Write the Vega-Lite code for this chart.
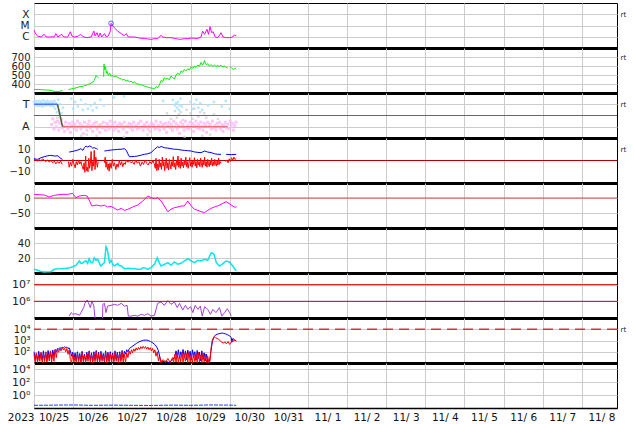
{
"$schema": "https://vega.github.io/schema/vega-lite/v6.json",
"padding": {"left": 0, "top": 2, "right": 0, "bottom": 0},
"spacing": 0,
"bounds": "flush",
"config": {
  "view": {"stroke": "#000", "strokeWidth": 1},
  "axis": {"labelFont": "DejaVu Sans", "labelFontSize": 10, "labelColor": "#222", "gridColor": "#cccccc", "gridWidth": 1, "labelOverlap": false},
  "line": {"strokeWidth": 1, "invalid": "break-paths-filter-domains", "clip": true}
},
"datasets": {
  "xr": [{"d":0,"v":3.7e-6},{"d":0.05,"v":1.6e-6},{"d":0.09,"v":1.17e-6},{"d":0.18,"v":9.5e-7},{"d":0.26,"v":1.64e-6},{"d":0.31,"v":9.5e-7},{"d":0.39,"v":9.5e-7},{"d":0.52,"v":1.0e-6},{"d":0.56,"v":1.9e-6},{"d":0.61,"v":9.5e-7},{"d":0.67,"v":1.34e-6},{"d":0.71,"v":1.64e-6},{"d":0.76,"v":9.5e-7},{"d":0.86,"v":9.5e-7},{"d":0.93,"v":2.8e-6},{"d":0.97,"v":1.17e-6},{"d":1.03,"v":9.5e-7},{"d":1.12,"v":1.09e-6},{"d":1.19,"v":1.64e-6},{"d":1.24,"v":1.09e-6},{"d":1.33,"v":8.3e-7},{"d":1.46,"v":9.5e-7},{"d":1.53,"v":3.2e-6},{"d":1.56,"v":1.17e-6},{"d":1.61,"v":2.3e-6},{"d":1.65,"v":9.5e-7},{"d":1.69,"v":2.15e-6},{"d":1.73,"v":9.5e-7},{"d":1.80,"v":1.9e-6},{"d":1.85,"v":9.5e-7},{"d":1.90,"v":1.17e-6},{"d":1.95,"v":3.2e-6},{"d":1.97,"v":1.56e-5},{"d":2.05,"v":6.4e-6},{"d":2.14,"v":3.2e-6},{"d":2.23,"v":1.9e-6},{"d":2.31,"v":1.25e-6},{"d":2.36,"v":1.9e-6},{"d":2.41,"v":9.5e-7},{"d":2.48,"v":9.5e-7},{"d":2.57,"v":9.5e-7},{"d":2.65,"v":8.3e-7},{"d":2.74,"v":7.2e-7},{"d":2.82,"v":7.2e-7},{"d":2.91,"v":6.3e-7},{"d":2.99,"v":5.9e-7},{"d":3.08,"v":6.8e-7},{"d":3.16,"v":6.8e-7},{"d":3.25,"v":1.34e-6},{"d":3.29,"v":9.5e-7},{"d":3.38,"v":8.3e-7},{"d":3.50,"v":8.3e-7},{"d":3.59,"v":7.2e-7},{"d":3.67,"v":6.3e-7},{"d":3.76,"v":5.9e-7},{"d":3.84,"v":6.8e-7},{"d":3.93,"v":6.8e-7},{"d":4.02,"v":7.7e-7},{"d":4.10,"v":7.2e-7},{"d":4.19,"v":7.2e-7},{"d":4.27,"v":9.5e-7},{"d":4.31,"v":3.2e-6},{"d":4.36,"v":1.64e-6},{"d":4.42,"v":4.6e-6},{"d":4.46,"v":1.64e-6},{"d":4.50,"v":7.9e-6},{"d":4.54,"v":2.3e-6},{"d":4.58,"v":2.8e-6},{"d":4.63,"v":9.5e-7},{"d":4.70,"v":8.3e-7},{"d":4.78,"v":2.3e-6},{"d":4.83,"v":9.5e-7},{"d":4.91,"v":8.3e-7},{"d":5.00,"v":8.3e-7},{"d":5.08,"v":9.5e-7},{"d":5.12,"v":1.43e-6},{"d":5.17,"v":1.17e-6}],
  "sw": [{"d":0,"v":341},{"d":0.05,"v":338},{"d":0.1,"v":340},{"d":0.18,"v":336},{"d":0.26,"v":335},{"d":0.35,"v":332},{"d":0.43,"v":330},{"d":0.48,"v":322},{"d":0.52,"v":316},{"d":0.56,"v":320},{"d":0.61,"v":314},{"d":0.65,"v":318},{"d":0.69,"v":322},{"d":0.73,"v":328},{"d":0.78,"v":null},{"d":0.88,"v":338},{"d":0.95,"v":345},{"d":1.03,"v":352},{"d":1.1,"v":360},{"d":1.15,"v":368},{"d":1.2,"v":375},{"d":1.25,"v":372},{"d":1.29,"v":385},{"d":1.33,"v":380},{"d":1.37,"v":395},{"d":1.42,"v":402},{"d":1.46,"v":410},{"d":1.5,"v":420},{"d":1.54,"v":440},{"d":1.57,"v":470},{"d":1.59,"v":495},{"d":1.62,"v":480},{"d":1.65,"v":470},{"d":1.7,"v":null},{"d":1.78,"v":480},{"d":1.79,"v":620},{"d":1.81,"v":560},{"d":1.83,"v":590},{"d":1.85,"v":520},{"d":1.87,"v":540},{"d":1.9,"v":495},{"d":1.93,"v":520},{"d":1.97,"v":485},{"d":2.0,"v":500},{"d":2.05,"v":478},{"d":2.1,"v":490},{"d":2.14,"v":470},{"d":2.18,"v":465},{"d":2.23,"v":455},{"d":2.27,"v":445},{"d":2.31,"v":452},{"d":2.35,"v":432},{"d":2.4,"v":440},{"d":2.44,"v":425},{"d":2.48,"v":430},{"d":2.53,"v":415},{"d":2.57,"v":422},{"d":2.61,"v":405},{"d":2.65,"v":400},{"d":2.7,"v":395},{"d":2.74,"v":390},{"d":2.78,"v":385},{"d":2.82,"v":378},{"d":2.86,"v":372},{"d":2.91,"v":366},{"d":2.95,"v":360},{"d":2.99,"v":356},{"d":3.03,"v":352},{"d":3.08,"v":345},{"d":3.12,"v":372},{"d":3.16,"v":360},{"d":3.2,"v":385},{"d":3.25,"v":440},{"d":3.29,"v":425},{"d":3.33,"v":470},{"d":3.37,"v":455},{"d":3.42,"v":462},{"d":3.46,"v":445},{"d":3.5,"v":488},{"d":3.55,"v":470},{"d":3.59,"v":455},{"d":3.63,"v":500},{"d":3.67,"v":520},{"d":3.72,"v":505},{"d":3.76,"v":545},{"d":3.8,"v":530},{"d":3.84,"v":560},{"d":3.88,"v":545},{"d":3.93,"v":570},{"d":3.97,"v":555},{"d":4.02,"v":590},{"d":4.06,"v":575},{"d":4.1,"v":600},{"d":4.14,"v":585},{"d":4.19,"v":610},{"d":4.23,"v":598},{"d":4.27,"v":640},{"d":4.31,"v":610},{"d":4.36,"v":660},{"d":4.38,"v":630},{"d":4.4,"v":615},{"d":4.44,"v":625},{"d":4.48,"v":600},{"d":4.53,"v":615},{"d":4.57,"v":595},{"d":4.61,"v":610},{"d":4.65,"v":595},{"d":4.7,"v":605},{"d":4.74,"v":595},{"d":4.78,"v":608},{"d":4.82,"v":590},{"d":4.87,"v":600},{"d":4.91,"v":585},{"d":4.95,"v":578},{"d":4.98,"v":null},{"d":5.02,"v":590},{"d":5.06,"v":572},{"d":5.1,"v":560},{"d":5.14,"v":575},{"d":5.17,"v":565}],
  "imfT": [{"d":0.00,"v":1.2},{"d":0.02,"v":0.9},{"d":0.04,"v":1.3},{"d":0.06,"v":1.0},{"d":0.08,"v":1.15},{"d":0.10,"v":0.85},{"d":0.12,"v":1.3},{"d":0.14,"v":1.05},{"d":0.16,"v":0.9},{"d":0.18,"v":1.25},{"d":0.20,"v":1.1},{"d":0.22,"v":0.8},{"d":0.24,"v":1.35},{"d":0.26,"v":1.0},{"d":0.28,"v":1.2},{"d":0.30,"v":0.9},{"d":0.32,"v":1.1},{"d":0.34,"v":1.3},{"d":0.36,"v":0.95},{"d":0.38,"v":1.2},{"d":0.40,"v":1.05},{"d":0.42,"v":0.85},{"d":0.44,"v":1.25},{"d":0.46,"v":1.0},{"d":0.48,"v":1.15},{"d":0.50,"v":0.8},{"d":0.52,"v":1.3},{"d":0.54,"v":0.6},{"d":0.56,"v":1.1},{"d":0.58,"v":0.3},{"d":0.60,"v":0.9},{"d":0.62,"v":1.4},{"d":0.64,"v":0.5},{"d":0.66,"v":1.0},{"d":0.70,"v":0.2},{"d":0.74,"v":0.7},{"d":0.95,"v":1.5},{"d":1.0,"v":0.6},{"d":1.05,"v":1.2},{"d":1.12,"v":0.8},{"d":1.2,"v":1.4},{"d":1.25,"v":0.5},{"d":1.32,"v":1.0},{"d":1.38,"v":0.6},{"d":1.45,"v":0.9},{"d":1.5,"v":0.45},{"d":1.55,"v":1.1},{"d":1.6,"v":0.7},{"d":1.7,"v":1.4},{"d":1.78,"v":0.9},{"d":2.05,"v":1.6},{"d":2.3,"v":1.7},{"d":3.3,"v":1.3},{"d":3.55,"v":1.4},{"d":3.6,"v":0.9},{"d":3.63,"v":1.1},{"d":3.65,"v":0.7},{"d":3.68,"v":1.2},{"d":3.7,"v":0.5},{"d":3.72,"v":0.9},{"d":3.75,"v":1.5},{"d":3.78,"v":0.8},{"d":4.0,"v":1.2},{"d":4.05,"v":0.6},{"d":4.1,"v":1.0},{"d":4.15,"v":1.4},{"d":4.2,"v":0.7},{"d":4.25,"v":1.1},{"d":4.3,"v":0.5},{"d":4.45,"v":0.9},{"d":4.6,"v":1.2},{"d":4.8,"v":0.8},{"d":4.9,"v":1.3},{"d":5.0,"v":0.6}],
  "imfA": [{"d":0.45,"v":-0.8},{"d":0.48,"v":-0.3},{"d":0.51,"v":-1.2},{"d":0.54,"v":-0.6},{"d":0.57,"v":-1.0},{"d":0.6,"v":-0.5},{"d":0.63,"v":-1.3},{"d":0.66,"v":-0.7},{"d":0.69,"v":-0.4},{"d":0.72,"v":-1.1},{"d":0.75,"v":-0.9},{"d":0.78,"v":-1.4},{"d":0.81,"v":-0.6},{"d":0.84,"v":-1.0},{"d":0.87,"v":-1.2},{"d":0.9,"v":-0.7},{"d":0.93,"v":-1.5},{"d":0.96,"v":-0.9},{"d":0.99,"v":-0.6},{"d":1.02,"v":-1.1},{"d":1.05,"v":-0.8},{"d":1.08,"v":-1.3},{"d":1.11,"v":-0.5},{"d":1.14,"v":-1.0},{"d":1.17,"v":-0.7},{"d":1.2,"v":-1.2},{"d":1.23,"v":-0.9},{"d":1.26,"v":-1.6},{"d":1.29,"v":-0.6},{"d":1.32,"v":-1.0},{"d":1.35,"v":-1.3},{"d":1.38,"v":-0.8},{"d":1.41,"v":-0.5},{"d":1.44,"v":-1.1},{"d":1.47,"v":-0.9},{"d":1.5,"v":-1.4},{"d":1.53,"v":-0.7},{"d":1.56,"v":-1.0},{"d":1.59,"v":-0.6},{"d":1.62,"v":-1.2},{"d":1.65,"v":-0.9},{"d":1.68,"v":-1.5},{"d":1.71,"v":-0.8},{"d":1.74,"v":-1.1},{"d":1.77,"v":-0.6},{"d":1.8,"v":-1.0},{"d":1.83,"v":-1.3},{"d":1.86,"v":-0.7},{"d":1.89,"v":-0.9},{"d":1.92,"v":-1.2},{"d":1.95,"v":-0.5},{"d":1.98,"v":-1.0},{"d":2.01,"v":-0.8},{"d":2.04,"v":-1.3},{"d":2.07,"v":-0.6},{"d":2.1,"v":-1.1},{"d":2.13,"v":-0.9},{"d":2.16,"v":-1.4},{"d":2.19,"v":-0.7},{"d":2.22,"v":-1.0},{"d":2.25,"v":-0.8},{"d":2.28,"v":-1.2},{"d":2.31,"v":-0.6},{"d":2.34,"v":-1.0},{"d":2.37,"v":-1.5},{"d":2.4,"v":-0.9},{"d":2.43,"v":-0.7},{"d":2.46,"v":-1.1},{"d":2.49,"v":-0.8},{"d":2.52,"v":-1.3},{"d":2.55,"v":-0.6},{"d":2.58,"v":-1.0},{"d":2.61,"v":-0.9},{"d":2.64,"v":-1.2},{"d":2.67,"v":-0.7},{"d":2.7,"v":-1.1},{"d":2.73,"v":-0.5},{"d":2.76,"v":-1.0},{"d":2.79,"v":-1.3},{"d":2.82,"v":-0.8},{"d":2.85,"v":-1.0},{"d":2.88,"v":-0.6},{"d":2.91,"v":-1.2},{"d":2.94,"v":-0.9},{"d":2.97,"v":-1.4},{"d":3.0,"v":-0.7},{"d":3.03,"v":-1.0},{"d":3.06,"v":-0.8},{"d":3.09,"v":-1.2},{"d":3.12,"v":-0.5},{"d":3.15,"v":-1.1},{"d":3.18,"v":-0.9},{"d":3.21,"v":-1.3},{"d":3.24,"v":-0.6},{"d":3.27,"v":-1.0},{"d":3.3,"v":-0.8},{"d":3.33,"v":-1.2},{"d":3.36,"v":-0.7},{"d":3.39,"v":-1.5},{"d":3.42,"v":-0.9},{"d":3.45,"v":-0.6},{"d":3.48,"v":-1.1},{"d":3.51,"v":-0.8},{"d":3.54,"v":-1.3},{"d":3.57,"v":-0.5},{"d":3.6,"v":-1.0},{"d":3.63,"v":-0.7},{"d":3.66,"v":-1.2},{"d":3.69,"v":-0.9},{"d":3.72,"v":-1.6},{"d":3.75,"v":-0.6},{"d":3.78,"v":-1.0},{"d":3.81,"v":-0.8},{"d":3.84,"v":-1.3},{"d":3.87,"v":-0.5},{"d":3.9,"v":-1.1},{"d":3.93,"v":-0.9},{"d":3.96,"v":-1.2},{"d":3.99,"v":-0.6},{"d":4.02,"v":-1.0},{"d":4.05,"v":-0.7},{"d":4.08,"v":-1.4},{"d":4.11,"v":-0.9},{"d":4.14,"v":-0.5},{"d":4.17,"v":-1.1},{"d":4.2,"v":-0.8},{"d":4.23,"v":-1.2},{"d":4.26,"v":-0.6},{"d":4.29,"v":-1.0},{"d":4.32,"v":-1.3},{"d":4.35,"v":-0.7},{"d":4.38,"v":-0.9},{"d":4.41,"v":-1.5},{"d":4.44,"v":-0.6},{"d":4.47,"v":-1.0},{"d":4.5,"v":-0.8},{"d":4.53,"v":-1.2},{"d":4.56,"v":-0.5},{"d":4.59,"v":-1.1},{"d":4.62,"v":-0.9},{"d":4.65,"v":-1.3},{"d":4.68,"v":-0.7},{"d":4.71,"v":-1.0},{"d":4.74,"v":-0.6},{"d":4.77,"v":-1.2},{"d":4.8,"v":-0.8},{"d":4.83,"v":-1.4},{"d":4.86,"v":-0.9},{"d":4.89,"v":-0.6},{"d":4.92,"v":-1.1},{"d":4.95,"v":-0.8},{"d":4.98,"v":-1.2},{"d":5.01,"v":-0.5},{"d":5.04,"v":-1.0},{"d":5.07,"v":-0.7},{"d":5.1,"v":-1.3},{"d":5.13,"v":-0.9},{"d":5.16,"v":-0.6}],
  "imfG": [{"d":0.6,"v":-0.2},{"d":0.65,"v":0.1},{"d":0.7,"v":-0.3},{"d":1.2,"v":-1.8},{"d":1.35,"v":-1.7},{"d":1.6,"v":-1.8},{"d":2.3,"v":-1.9},{"d":2.9,"v":-1.7},{"d":3.4,"v":0.2},{"d":3.5,"v":-0.3},{"d":3.6,"v":0.4},{"d":3.65,"v":-0.2},{"d":3.7,"v":0.1},{"d":3.75,"v":0.3},{"d":3.8,"v":-0.4},{"d":3.85,"v":-1.9},{"d":3.9,"v":0.5},{"d":4.0,"v":0.2},{"d":4.05,"v":-0.3},{"d":4.1,"v":0.6},{"d":4.2,"v":-0.1},{"d":4.25,"v":0.3},{"d":4.3,"v":-1.8},{"d":4.35,"v":0.2},{"d":4.4,"v":-0.2},{"d":4.5,"v":-1.7},{"d":4.6,"v":0.1},{"d":4.7,"v":-0.3}],
  "secB": [{"d":0,"v":1},{"d":0.6,"v":1}],
  "secD": [{"d":0.6,"v":1},{"d":0.73,"v":-1}],
  "secR": [{"d":0.73,"v":-1},{"d":4.95,"v":-1}],
  "bt": [{"d":0,"v":1.6},{"d":0.09,"v":1.0},{"d":0.18,"v":2.5},{"d":0.26,"v":3.4},{"d":0.35,"v":4.2},{"d":0.43,"v":4.6},{"d":0.52,"v":4.0},{"d":0.61,"v":4.2},{"d":0.69,"v":1.6},{"d":0.73,"v":1.0},{"d":0.78,"v":null},{"d":0.9,"v":7.5},{"d":1.03,"v":8.4},{"d":1.12,"v":9.3},{"d":1.2,"v":10.5},{"d":1.25,"v":9.0},{"d":1.29,"v":11.5},{"d":1.33,"v":12.9},{"d":1.37,"v":12.0},{"d":1.42,"v":12.9},{"d":1.46,"v":12.3},{"d":1.5,"v":11.0},{"d":1.54,"v":11.4},{"d":1.6,"v":10.5},{"d":1.63,"v":9.9},{"d":1.68,"v":null},{"d":1.8,"v":8.4},{"d":1.88,"v":8.9},{"d":1.97,"v":9.3},{"d":2.05,"v":9.6},{"d":2.14,"v":9.9},{"d":2.23,"v":10.0},{"d":2.31,"v":10.5},{"d":2.36,"v":9.0},{"d":2.4,"v":5.9},{"d":2.44,"v":3.4},{"d":2.48,"v":3.4},{"d":2.57,"v":3.6},{"d":2.65,"v":4.0},{"d":2.74,"v":4.8},{"d":2.82,"v":5.5},{"d":2.91,"v":6.0},{"d":2.99,"v":7.0},{"d":3.08,"v":9.9},{"d":3.16,"v":12.3},{"d":3.2,"v":11.5},{"d":3.25,"v":12.5},{"d":3.33,"v":11.4},{"d":3.42,"v":11.0},{"d":3.5,"v":10.5},{"d":3.59,"v":10.0},{"d":3.67,"v":9.9},{"d":3.76,"v":9.3},{"d":3.84,"v":9.0},{"d":3.93,"v":8.7},{"d":4.02,"v":8.4},{"d":4.1,"v":7.6},{"d":4.19,"v":7.2},{"d":4.27,"v":7.0},{"d":4.36,"v":8.4},{"d":4.44,"v":7.5},{"d":4.53,"v":7.0},{"d":4.61,"v":6.0},{"d":4.7,"v":5.5},{"d":4.78,"v":5.5},{"d":4.83,"v":null},{"d":4.91,"v":5.5},{"d":5.04,"v":5.2},{"d":5.17,"v":5.5}],
  "bz": [{"d":0,"v":1.0},{"d":0.05,"v":0.5},{"d":0.09,"v":-0.5},{"d":0.14,"v":0.8},{"d":0.18,"v":-0.3},{"d":0.22,"v":1.5},{"d":0.26,"v":0.2},{"d":0.3,"v":-1.0},{"d":0.35,"v":0.5},{"d":0.39,"v":-1.5},{"d":0.43,"v":0.0},{"d":0.48,"v":-2.0},{"d":0.52,"v":-0.5},{"d":0.56,"v":-3.0},{"d":0.6,"v":-1.0},{"d":0.64,"v":-2.5},{"d":0.68,"v":-0.5},{"d":0.72,"v":-3.5},{"d":0.76,"v":null},{"d":0.88,"v":-1.0},{"d":0.9,"v":-6.0},{"d":0.93,"v":-1.5},{"d":0.96,"v":-5.0},{"d":0.99,"v":1.0},{"d":1.02,"v":-3.0},{"d":1.05,"v":-6.5},{"d":1.08,"v":-1.0},{"d":1.11,"v":-4.0},{"d":1.14,"v":0.5},{"d":1.17,"v":-3.0},{"d":1.2,"v":-1.0},{"d":1.23,"v":-5.0},{"d":1.26,"v":-8.0},{"d":1.28,"v":-2.0},{"d":1.3,"v":-10.5},{"d":1.32,"v":4.0},{"d":1.34,"v":-9.0},{"d":1.36,"v":-6.0},{"d":1.38,"v":-10.0},{"d":1.4,"v":2.0},{"d":1.42,"v":-7.0},{"d":1.44,"v":-3.0},{"d":1.46,"v":8.0},{"d":1.48,"v":-9.0},{"d":1.5,"v":-1.0},{"d":1.52,"v":-5.0},{"d":1.54,"v":9.0},{"d":1.56,"v":-8.0},{"d":1.58,"v":3.0},{"d":1.6,"v":-2.0},{"d":1.62,"v":-6.0},{"d":1.64,"v":-1.0},{"d":1.68,"v":null},{"d":1.8,"v":-2.0},{"d":1.82,"v":3.0},{"d":1.84,"v":-6.0},{"d":1.86,"v":-1.0},{"d":1.88,"v":-8.0},{"d":1.9,"v":-3.0},{"d":1.92,"v":-9.5},{"d":1.94,"v":-2.0},{"d":1.97,"v":-7.0},{"d":2.0,"v":1.0},{"d":2.03,"v":-5.0},{"d":2.06,"v":-2.0},{"d":2.09,"v":-8.0},{"d":2.12,"v":-3.0},{"d":2.15,"v":-6.0},{"d":2.18,"v":0.0},{"d":2.21,"v":-4.0},{"d":2.24,"v":-1.0},{"d":2.27,"v":-5.5},{"d":2.3,"v":-2.0},{"d":2.33,"v":-3.5},{"d":2.36,"v":0.5},{"d":2.4,"v":-1.5},{"d":2.44,"v":-0.5},{"d":2.48,"v":-2.0},{"d":2.52,"v":-1.0},{"d":2.56,"v":-3.5},{"d":2.6,"v":0.5},{"d":2.64,"v":-2.5},{"d":2.68,"v":-1.0},{"d":2.72,"v":-5.0},{"d":2.76,"v":-1.5},{"d":2.8,"v":-3.5},{"d":2.84,"v":0.5},{"d":2.88,"v":-2.5},{"d":2.92,"v":-4.0},{"d":2.96,"v":-1.0},{"d":3.0,"v":-3.0},{"d":3.04,"v":0.0},{"d":3.07,"v":-2.5},{"d":3.1,"v":-7.0},{"d":3.12,"v":2.0},{"d":3.14,"v":-9.0},{"d":3.16,"v":-3.0},{"d":3.18,"v":-8.5},{"d":3.2,"v":1.0},{"d":3.22,"v":-6.0},{"d":3.24,"v":-2.0},{"d":3.26,"v":-8.0},{"d":3.28,"v":3.0},{"d":3.3,"v":-5.0},{"d":3.32,"v":-1.0},{"d":3.34,"v":-9.0},{"d":3.36,"v":-3.0},{"d":3.38,"v":2.0},{"d":3.4,"v":-7.0},{"d":3.42,"v":-2.0},{"d":3.44,"v":-8.5},{"d":3.46,"v":1.0},{"d":3.48,"v":-4.0},{"d":3.5,"v":-7.5},{"d":3.52,"v":-1.0},{"d":3.54,"v":-5.0},{"d":3.56,"v":3.5},{"d":3.58,"v":-6.0},{"d":3.6,"v":-2.0},{"d":3.62,"v":-8.0},{"d":3.64,"v":0.0},{"d":3.66,"v":-4.5},{"d":3.68,"v":4.0},{"d":3.7,"v":-6.0},{"d":3.72,"v":-1.0},{"d":3.74,"v":-7.0},{"d":3.76,"v":2.0},{"d":3.78,"v":-5.0},{"d":3.8,"v":-1.5},{"d":3.82,"v":-6.5},{"d":3.84,"v":0.5},{"d":3.86,"v":-4.0},{"d":3.88,"v":3.0},{"d":3.9,"v":-5.5},{"d":3.92,"v":-1.0},{"d":3.94,"v":-7.0},{"d":3.96,"v":-2.0},{"d":3.98,"v":2.5},{"d":4.0,"v":-5.0},{"d":4.02,"v":-1.0},{"d":4.04,"v":-6.0},{"d":4.06,"v":0.0},{"d":4.08,"v":-3.5},{"d":4.1,"v":2.5},{"d":4.12,"v":-5.0},{"d":4.14,"v":-1.0},{"d":4.16,"v":-6.5},{"d":4.18,"v":1.0},{"d":4.2,"v":-4.0},{"d":4.22,"v":-1.0},{"d":4.24,"v":-5.5},{"d":4.26,"v":2.0},{"d":4.28,"v":-3.0},{"d":4.3,"v":-6.0},{"d":4.32,"v":0.0},{"d":4.34,"v":-4.0},{"d":4.36,"v":3.0},{"d":4.38,"v":-5.0},{"d":4.4,"v":-1.0},{"d":4.42,"v":-6.0},{"d":4.44,"v":1.0},{"d":4.46,"v":-3.0},{"d":4.48,"v":-5.5},{"d":4.5,"v":0.5},{"d":4.52,"v":-4.0},{"d":4.54,"v":2.0},{"d":4.56,"v":-5.0},{"d":4.58,"v":-1.0},{"d":4.6,"v":-4.5},{"d":4.62,"v":1.0},{"d":4.64,"v":-3.0},{"d":4.66,"v":-5.0},{"d":4.68,"v":0.0},{"d":4.7,"v":-4.0},{"d":4.72,"v":2.0},{"d":4.74,"v":-3.5},{"d":4.76,"v":-1.0},{"d":4.78,"v":-2.5},{"d":4.8,"v":null},{"d":4.9,"v":-1.0},{"d":4.93,"v":0.5},{"d":4.96,"v":-2.0},{"d":4.99,"v":1.5},{"d":5.02,"v":-1.0},{"d":5.05,"v":2.5},{"d":5.08,"v":0.0},{"d":5.11,"v":3.0},{"d":5.14,"v":1.0},{"d":5.17,"v":2.0}],
  "dst": [{"d":0,"v":12.2},{"d":0.13,"v":11},{"d":0.26,"v":10},{"d":0.39,"v":3.3},{"d":0.52,"v":8.9},{"d":0.69,"v":12.2},{"d":0.86,"v":12.2},{"d":0.99,"v":15.5},{"d":1.07,"v":1.1},{"d":1.16,"v":6.7},{"d":1.29,"v":8.9},{"d":1.36,"v":6.7},{"d":1.42,"v":-10},{"d":1.48,"v":-26.7},{"d":1.59,"v":-23.3},{"d":1.71,"v":-26.7},{"d":1.8,"v":-24},{"d":1.88,"v":-30},{"d":1.97,"v":-28},{"d":2.06,"v":-34.4},{"d":2.14,"v":-40},{"d":2.23,"v":-34.4},{"d":2.31,"v":-41.1},{"d":2.4,"v":-37.8},{"d":2.52,"v":-30},{"d":2.65,"v":-23.3},{"d":2.78,"v":-10},{"d":2.91,"v":6.7},{"d":2.99,"v":1.1},{"d":3.08,"v":-2.2},{"d":3.16,"v":1.1},{"d":3.25,"v":-10},{"d":3.33,"v":-26.7},{"d":3.42,"v":-45.6},{"d":3.5,"v":-37.8},{"d":3.59,"v":-32},{"d":3.68,"v":-30},{"d":3.76,"v":-26.7},{"d":3.84,"v":-26.7},{"d":3.93,"v":-10},{"d":4.02,"v":-26.7},{"d":4.1,"v":-37.8},{"d":4.19,"v":-41.1},{"d":4.27,"v":-45.6},{"d":4.36,"v":-48.9},{"d":4.44,"v":-41.1},{"d":4.53,"v":-34.4},{"d":4.61,"v":-30},{"d":4.7,"v":-26},{"d":4.78,"v":-21.1},{"d":4.91,"v":-12.2},{"d":5.04,"v":-23.3},{"d":5.12,"v":-30},{"d":5.18,"v":-30}],
  "kp": [{"d":0,"v":4.9},{"d":0.09,"v":3.6},{"d":0.18,"v":2.0},{"d":0.26,"v":1.3},{"d":0.35,"v":1.5},{"d":0.43,"v":1.8},{"d":0.52,"v":4.9},{"d":0.61,"v":5.5},{"d":0.69,"v":5.8},{"d":0.78,"v":6.0},{"d":0.86,"v":6.2},{"d":0.99,"v":8.4},{"d":1.07,"v":10.2},{"d":1.16,"v":16},{"d":1.2,"v":13},{"d":1.24,"v":12.9},{"d":1.28,"v":15},{"d":1.33,"v":16},{"d":1.37,"v":13},{"d":1.41,"v":19.1},{"d":1.46,"v":14},{"d":1.5,"v":13.8},{"d":1.54,"v":20.4},{"d":1.58,"v":17},{"d":1.63,"v":18.2},{"d":1.68,"v":12},{"d":1.71,"v":9.3},{"d":1.76,"v":12},{"d":1.8,"v":13.8},{"d":1.84,"v":35.1},{"d":1.86,"v":33},{"d":1.88,"v":29.3},{"d":1.93,"v":13.8},{"d":1.97,"v":16.9},{"d":2.01,"v":12},{"d":2.05,"v":9.3},{"d":2.1,"v":11},{"d":2.14,"v":12.5},{"d":2.18,"v":10},{"d":2.23,"v":9.3},{"d":2.27,"v":7.5},{"d":2.31,"v":5.8},{"d":2.4,"v":6.2},{"d":2.48,"v":6.0},{"d":2.57,"v":5.8},{"d":2.65,"v":5.0},{"d":2.74,"v":4.9},{"d":2.78,"v":7.1},{"d":2.82,"v":7.1},{"d":2.91,"v":4.9},{"d":2.99,"v":7.1},{"d":3.04,"v":10},{"d":3.08,"v":11.6},{"d":3.15,"v":20.4},{"d":3.2,"v":13.8},{"d":3.25,"v":9.3},{"d":3.33,"v":11.6},{"d":3.42,"v":13.8},{"d":3.5,"v":10.2},{"d":3.59,"v":14.7},{"d":3.67,"v":11.6},{"d":3.76,"v":12.9},{"d":3.84,"v":16},{"d":3.93,"v":19.1},{"d":4.02,"v":16},{"d":4.1,"v":13.8},{"d":4.19,"v":16.9},{"d":4.27,"v":16},{"d":4.36,"v":18.2},{"d":4.44,"v":17},{"d":4.53,"v":27.1},{"d":4.57,"v":26},{"d":4.6,"v":24.9},{"d":4.66,"v":13.8},{"d":4.74,"v":9.3},{"d":4.83,"v":12.5},{"d":4.91,"v":16},{"d":4.99,"v":14.7},{"d":5.08,"v":9.3},{"d":5.14,"v":4.9},{"d":5.17,"v":3}],
  "el": [{"d":0.9,"v":1.3e5},{"d":0.95,"v":2.1e5},{"d":0.99,"v":1.7e5},{"d":1.07,"v":1.8e5},{"d":1.16,"v":1.45e5},{"d":1.2,"v":2.1e5},{"d":1.27,"v":4.2e5},{"d":1.3,"v":7.6e5},{"d":1.36,"v":1.2e6},{"d":1.39,"v":8.3e5},{"d":1.44,"v":4.2e5},{"d":1.48,"v":1.05e6},{"d":1.53,"v":5.2e5},{"d":1.56,"v":9e4},{"d":1.75,"v":9e4},{"d":1.76,"v":6.6e5},{"d":1.8,"v":7.6e5},{"d":1.84,"v":2.1e5},{"d":1.88,"v":5.2e5},{"d":1.97,"v":5.75e5},{"d":2.06,"v":6.6e5},{"d":2.14,"v":5.75e5},{"d":2.23,"v":7.6e5},{"d":2.31,"v":5.2e5},{"d":2.38,"v":5.75e5},{"d":2.41,"v":1.3e5},{"d":2.48,"v":1.3e5},{"d":2.57,"v":1.45e5},{"d":2.65,"v":1.3e5},{"d":2.74,"v":1.66e5},{"d":2.82,"v":1.45e5},{"d":2.91,"v":1.82e5},{"d":2.99,"v":1.3e5},{"d":3.08,"v":1.45e5},{"d":3.16,"v":7.6e5},{"d":3.25,"v":9.1e5},{"d":3.33,"v":5.75e5},{"d":3.42,"v":1.1e6},{"d":3.5,"v":6.6e5},{"d":3.59,"v":9.1e5},{"d":3.66,"v":4.2e5},{"d":3.72,"v":7.6e5},{"d":3.8,"v":3e5},{"d":3.87,"v":5.75e5},{"d":3.93,"v":3.3e5},{"d":4.0,"v":4.8e5},{"d":4.06,"v":2.1e5},{"d":4.12,"v":5.75e5},{"d":4.19,"v":3.3e5},{"d":4.25,"v":5.2e5},{"d":4.3,"v":1.3e5},{"d":4.36,"v":4.8e5},{"d":4.44,"v":3.3e5},{"d":4.51,"v":1.66e5},{"d":4.57,"v":3.3e5},{"d":4.65,"v":2.1e5},{"d":4.74,"v":4.2e5},{"d":4.8,"v":1.3e5},{"d":4.87,"v":2.1e5},{"d":4.94,"v":3.6e5},{"d":5.0,"v":2.1e5},{"d":5.04,"v":1.3e5}],
  "pb": [{"d":0,"v":100},{"d":0.03,"v":20},{"d":0.06,"v":70},{"d":0.09,"v":15},{"d":0.12,"v":110},{"d":0.15,"v":25},{"d":0.18,"v":80},{"d":0.21,"v":18},{"d":0.24,"v":120},{"d":0.27,"v":20},{"d":0.3,"v":90},{"d":0.33,"v":16},{"d":0.36,"v":130},{"d":0.39,"v":30},{"d":0.42,"v":100},{"d":0.45,"v":25},{"d":0.48,"v":140},{"d":0.51,"v":40},{"d":0.54,"v":160},{"d":0.57,"v":100},{"d":0.6,"v":200},{"d":0.63,"v":170},{"d":0.66,"v":230},{"d":0.69,"v":200},{"d":0.72,"v":260},{"d":0.75,"v":220},{"d":0.78,"v":280},{"d":0.81,"v":240},{"d":0.84,"v":260},{"d":0.87,"v":200},{"d":0.9,"v":220},{"d":0.93,"v":120},{"d":0.96,"v":40},{"d":0.99,"v":90},{"d":1.02,"v":20},{"d":1.05,"v":80},{"d":1.08,"v":15},{"d":1.11,"v":100},{"d":1.14,"v":18},{"d":1.17,"v":70},{"d":1.2,"v":14},{"d":1.23,"v":110},{"d":1.26,"v":20},{"d":1.29,"v":60},{"d":1.32,"v":15},{"d":1.35,"v":90},{"d":1.38,"v":22},{"d":1.41,"v":120},{"d":1.44,"v":18},{"d":1.47,"v":80},{"d":1.5,"v":14},{"d":1.53,"v":100},{"d":1.56,"v":20},{"d":1.59,"v":130},{"d":1.62,"v":16},{"d":1.65,"v":90},{"d":1.68,"v":14},{"d":1.71,"v":110},{"d":1.74,"v":20},{"d":1.77,"v":70},{"d":1.8,"v":15},{"d":1.83,"v":120},{"d":1.86,"v":18},{"d":1.89,"v":90},{"d":1.92,"v":14},{"d":1.95,"v":100},{"d":1.98,"v":20},{"d":2.01,"v":80},{"d":2.04,"v":15},{"d":2.07,"v":120},{"d":2.1,"v":22},{"d":2.13,"v":90},{"d":2.16,"v":16},{"d":2.19,"v":100},{"d":2.22,"v":18},{"d":2.25,"v":130},{"d":2.28,"v":30},{"d":2.31,"v":110},{"d":2.34,"v":60},{"d":2.37,"v":150},{"d":2.4,"v":100},{"d":2.44,"v":200},{"d":2.5,"v":280},{"d":2.56,"v":400},{"d":2.62,"v":550},{"d":2.68,"v":750},{"d":2.74,"v":900},{"d":2.8,"v":1050},{"d":2.86,"v":1100},{"d":2.92,"v":1000},{"d":2.98,"v":800},{"d":3.04,"v":600},{"d":3.1,"v":400},{"d":3.14,"v":250},{"d":3.18,"v":120},{"d":3.22,"v":30},{"d":3.26,"v":12},{"d":3.35,"v":15},{"d":3.45,"v":11},{"d":3.55,"v":20},{"d":3.6,"v":40},{"d":3.63,"v":120},{"d":3.66,"v":30},{"d":3.69,"v":150},{"d":3.72,"v":25},{"d":3.75,"v":100},{"d":3.78,"v":40},{"d":3.81,"v":160},{"d":3.84,"v":30},{"d":3.87,"v":120},{"d":3.9,"v":20},{"d":3.93,"v":140},{"d":3.96,"v":35},{"d":3.99,"v":110},{"d":4.02,"v":20},{"d":4.05,"v":150},{"d":4.08,"v":30},{"d":4.11,"v":100},{"d":4.14,"v":18},{"d":4.17,"v":130},{"d":4.2,"v":25},{"d":4.23,"v":90},{"d":4.26,"v":15},{"d":4.29,"v":120},{"d":4.32,"v":20},{"d":4.35,"v":80},{"d":4.38,"v":15},{"d":4.41,"v":60},{"d":4.44,"v":12},{"d":4.48,"v":11},{"d":4.52,"v":100},{"d":4.56,"v":800},{"d":4.6,"v":2200},{"d":4.65,"v":3200},{"d":4.7,"v":3800},{"d":4.75,"v":4200},{"d":4.8,"v":4500},{"d":4.85,"v":4300},{"d":4.9,"v":3800},{"d":4.95,"v":3200},{"d":5.0,"v":2600},{"d":5.04,"v":1800},{"d":5.06,"v":700},{"d":5.08,"v":1500},{"d":5.12,"v":1200},{"d":5.17,"v":900}],
  "pr": [{"d":0,"v":60},{"d":0.03,"v":12},{"d":0.06,"v":80},{"d":0.09,"v":11},{"d":0.12,"v":45},{"d":0.15,"v":14},{"d":0.18,"v":90},{"d":0.21,"v":11},{"d":0.24,"v":55},{"d":0.27,"v":13},{"d":0.3,"v":100},{"d":0.33,"v":12},{"d":0.36,"v":60},{"d":0.39,"v":15},{"d":0.42,"v":120},{"d":0.45,"v":12},{"d":0.48,"v":70},{"d":0.51,"v":14},{"d":0.54,"v":150},{"d":0.57,"v":30},{"d":0.6,"v":180},{"d":0.63,"v":90},{"d":0.66,"v":200},{"d":0.69,"v":120},{"d":0.72,"v":230},{"d":0.75,"v":150},{"d":0.78,"v":210},{"d":0.81,"v":100},{"d":0.84,"v":200},{"d":0.87,"v":60},{"d":0.9,"v":150},{"d":0.93,"v":20},{"d":0.96,"v":11},{"d":0.99,"v":60},{"d":1.02,"v":12},{"d":1.05,"v":40},{"d":1.08,"v":11},{"d":1.11,"v":70},{"d":1.14,"v":13},{"d":1.17,"v":50},{"d":1.2,"v":11},{"d":1.23,"v":80},{"d":1.26,"v":12},{"d":1.29,"v":45},{"d":1.32,"v":11},{"d":1.35,"v":60},{"d":1.38,"v":14},{"d":1.41,"v":90},{"d":1.44,"v":12},{"d":1.47,"v":55},{"d":1.5,"v":11},{"d":1.53,"v":70},{"d":1.56,"v":13},{"d":1.59,"v":100},{"d":1.62,"v":12},{"d":1.65,"v":60},{"d":1.68,"v":11},{"d":1.71,"v":80},{"d":1.74,"v":14},{"d":1.77,"v":50},{"d":1.8,"v":12},{"d":1.83,"v":90},{"d":1.86,"v":11},{"d":1.89,"v":60},{"d":1.92,"v":13},{"d":1.95,"v":75},{"d":1.98,"v":11},{"d":2.01,"v":55},{"d":2.04,"v":12},{"d":2.07,"v":85},{"d":2.1,"v":14},{"d":2.13,"v":60},{"d":2.16,"v":11},{"d":2.19,"v":70},{"d":2.22,"v":13},{"d":2.25,"v":95},{"d":2.28,"v":12},{"d":2.31,"v":60},{"d":2.34,"v":11},{"d":2.37,"v":80},{"d":2.4,"v":30},{"d":2.43,"v":120},{"d":2.46,"v":60},{"d":2.49,"v":150},{"d":2.52,"v":80},{"d":2.55,"v":180},{"d":2.58,"v":110},{"d":2.61,"v":220},{"d":2.64,"v":140},{"d":2.67,"v":250},{"d":2.7,"v":160},{"d":2.73,"v":280},{"d":2.76,"v":190},{"d":2.79,"v":300},{"d":2.82,"v":200},{"d":2.85,"v":290},{"d":2.88,"v":170},{"d":2.91,"v":260},{"d":2.94,"v":150},{"d":2.97,"v":230},{"d":3.0,"v":120},{"d":3.03,"v":200},{"d":3.06,"v":80},{"d":3.09,"v":150},{"d":3.12,"v":40},{"d":3.15,"v":100},{"d":3.18,"v":15},{"d":3.21,"v":40},{"d":3.24,"v":11},{"d":3.3,"v":20},{"d":3.36,"v":11},{"d":3.42,"v":25},{"d":3.48,"v":11},{"d":3.54,"v":30},{"d":3.57,"v":11},{"d":3.6,"v":60},{"d":3.63,"v":12},{"d":3.66,"v":80},{"d":3.69,"v":11},{"d":3.72,"v":50},{"d":3.75,"v":13},{"d":3.78,"v":90},{"d":3.81,"v":11},{"d":3.84,"v":60},{"d":3.87,"v":14},{"d":3.9,"v":70},{"d":3.93,"v":11},{"d":3.96,"v":100},{"d":3.99,"v":12},{"d":4.02,"v":55},{"d":4.05,"v":11},{"d":4.08,"v":80},{"d":4.11,"v":13},{"d":4.14,"v":60},{"d":4.17,"v":11},{"d":4.2,"v":90},{"d":4.23,"v":12},{"d":4.26,"v":50},{"d":4.29,"v":11},{"d":4.32,"v":75},{"d":4.35,"v":13},{"d":4.38,"v":60},{"d":4.41,"v":11},{"d":4.44,"v":40},{"d":4.47,"v":11},{"d":4.5,"v":15},{"d":4.53,"v":300},{"d":4.56,"v":1200},{"d":4.6,"v":2200},{"d":4.64,"v":1800},{"d":4.68,"v":1500},{"d":4.72,"v":1300},{"d":4.76,"v":900},{"d":4.8,"v":700},{"d":4.84,"v":600},{"d":4.88,"v":750},{"d":4.92,"v":500},{"d":4.96,"v":800},{"d":5.0,"v":450},{"d":5.04,"v":700},{"d":5.08,"v":900},{"d":5.12,"v":1000},{"d":5.17,"v":950}],
  "p9": [{"d":0,"v":0.026},{"d":0.5,"v":0.028},{"d":1,"v":0.03},{"d":1.5,"v":0.026},{"d":2,"v":0.028},{"d":2.5,"v":0.026},{"d":3,"v":0.025},{"d":3.5,"v":0.028},{"d":4,"v":0.026},{"d":4.5,"v":0.03},{"d":5,"v":0.028},{"d":5.17,"v":0.026}]
},
"vconcat": [
 {"width":583,"height":45,"resolve":{"axis":{"y":"independent"}},"layer":[
  {"data":{"name":"xr"},"mark":{"type":"line","color":"#ff00ff"},"encoding":{
    "x":{"field":"d","type":"quantitative","scale":{"domain":[0,14.9],"nice":false,"zero":false},"axis":{"title":null,"values":[0,1,2,3,4,5,6,7,8,9,10,11,12,13,14],"labels":false,"ticks":false,"domainColor":"#000","domainWidth":3,"grid":true,"minExtent":0,"maxExtent":0}},
    "y":{"field":"v","type":"quantitative","scale":{"type":"log","domain":[1e-7,1e-3],"nice":false},"axis":{"title":null,"values":[1e-6,1e-5,1e-4],"labelExpr":"datum.value > 5e-5 ? 'X' : datum.value > 5e-6 ? 'M' : 'C'","labelFontSize":10.5,"ticks":false,"domain":false,"labelPadding":5,"minExtent":33,"maxExtent":33}}}},
  {"data":{"values":[{"d":1.97,"v":1.56e-5}]},"mark":{"type":"point","filled":false,"color":"#2020ff","size":22,"strokeWidth":1},"encoding":{"x":{"field":"d","type":"quantitative"},"y":{"field":"v","type":"quantitative","axis":null}}},
  {"data":{"values":[{}]},"mark":{"type":"rule","opacity":0},"encoding":{"y":{"datum":1e-4,"type":"quantitative","axis":{"orient":"right","title":null,"values":[1e-4],"labelExpr":"'rt'","grid":false,"ticks":false,"domain":false,"labelFontSize":7,"labelPadding":3}}}}
 ]},
 {"width":583,"height":45,"resolve":{"axis":{"y":"independent"}},"layer":[
  {"data":{"name":"sw"},"mark":{"type":"line","color":"#00ee00"},"encoding":{
    "x":{"field":"d","type":"quantitative","scale":{"domain":[0,14.9],"nice":false,"zero":false},"axis":{"title":null,"values":[0,1,2,3,4,5,6,7,8,9,10,11,12,13,14],"labels":false,"ticks":false,"domainColor":"#000","domainWidth":3,"grid":true,"minExtent":0,"maxExtent":0}},
    "y":{"field":"v","type":"quantitative","scale":{"domain":[300,800],"nice":false,"zero":false},"axis":{"title":null,"values":[400,500,600,700],"labelOverlap":false,"labelFontSize":10,"ticks":false,"domain":false,"labelPadding":4,"minExtent":33,"maxExtent":33}}}},
  {"data":{"values":[{}]},"mark":{"type":"rule","opacity":0},"encoding":{"y":{"datum":700,"type":"quantitative","axis":{"orient":"right","title":null,"values":[700],"labelExpr":"'rt'","grid":false,"ticks":false,"domain":false,"labelFontSize":7,"labelPadding":3}}}}
 ]},
 {"width":583,"height":45,"resolve":{"axis":{"y":"independent"}},"layer":[
  {"data":{"name":"imfT"},"mark":{"type":"square","filled":true,"color":"#a8e4ff","size":6,"opacity":0.85},"encoding":{
    "x":{"field":"d","type":"quantitative","scale":{"domain":[0,14.9],"nice":false,"zero":false},"axis":{"title":null,"values":[0,1,2,3,4,5,6,7,8,9,10,11,12,13,14],"labels":false,"ticks":false,"domainColor":"#000","domainWidth":3,"grid":true,"minExtent":0,"maxExtent":0}},
    "y":{"field":"v","type":"quantitative","scale":{"domain":[-2,2],"nice":false,"zero":false},"axis":{"title":null,"values":[-1,1],"labelExpr":"datum.value > 0 ? 'T' : 'A'","labelFontSize":11,"ticks":false,"domain":false,"labelPadding":5,"minExtent":33,"maxExtent":33}}}},
  {"data":{"name":"imfG"},"mark":{"type":"square","filled":true,"color":"#cccccc","size":6},"encoding":{"x":{"field":"d","type":"quantitative"},"y":{"field":"v","type":"quantitative","axis":null}}},
  {"data":{"name":"imfA"},"mark":{"type":"square","filled":true,"color":"#ffb8f4","size":9,"opacity":0.8},"encoding":{"x":{"field":"d","type":"quantitative"},"y":{"field":"v","type":"quantitative","axis":null}}},
  {"data":{"values":[{}]},"mark":{"type":"rule","color":"#666666","strokeWidth":1},"encoding":{"y":{"datum":0,"type":"quantitative","axis":null}}},
  {"data":{"name":"secB"},"mark":{"type":"line","color":"#5070ff","strokeWidth":1.5},"encoding":{"x":{"field":"d","type":"quantitative"},"y":{"field":"v","type":"quantitative","axis":null}}},
  {"data":{"name":"secD"},"mark":{"type":"line","color":"#50603a","strokeWidth":1.5},"encoding":{"x":{"field":"d","type":"quantitative"},"y":{"field":"v","type":"quantitative","axis":null}}},
  {"data":{"name":"secR"},"mark":{"type":"line","color":"#e05050","strokeWidth":1.2},"encoding":{"x":{"field":"d","type":"quantitative"},"y":{"field":"v","type":"quantitative","axis":null}}},
  {"data":{"values":[{}]},"mark":{"type":"rule","opacity":0},"encoding":{"y":{"datum":1,"type":"quantitative","axis":{"orient":"right","title":null,"values":[1],"labelExpr":"'rt'","grid":false,"ticks":false,"domain":false,"labelFontSize":7,"labelPadding":3}}}}
 ]},
 {"width":583,"height":45,"resolve":{"axis":{"y":"independent"}},"layer":[
  {"data":{"values":[{}]},"mark":{"type":"rule","color":"#b00000","strokeWidth":1},"encoding":{
    "y":{"datum":0,"type":"quantitative","scale":{"domain":[-20,20],"nice":false,"zero":false},"axis":{"title":null,"values":[-10,0,10],"ticks":false,"domain":false,"labelPadding":4,"minExtent":33,"maxExtent":33}}}},
  {"data":{"name":"bt"},"mark":{"type":"line","color":"#0000ff"},"encoding":{
    "x":{"field":"d","type":"quantitative","scale":{"domain":[0,14.9],"nice":false,"zero":false},"axis":{"title":null,"values":[0,1,2,3,4,5,6,7,8,9,10,11,12,13,14],"labels":false,"ticks":false,"domainColor":"#000","domainWidth":3,"grid":true,"minExtent":0,"maxExtent":0}},
    "y":{"field":"v","type":"quantitative","axis":null}}},
  {"data":{"name":"bz"},"mark":{"type":"line","color":"#ff0000"},"encoding":{"x":{"field":"d","type":"quantitative"},"y":{"field":"v","type":"quantitative","axis":null}}},
  {"data":{"values":[{}]},"mark":{"type":"rule","opacity":0},"encoding":{"y":{"datum":10,"type":"quantitative","axis":{"orient":"right","title":null,"values":[10],"labelExpr":"'rt'","grid":false,"ticks":false,"domain":false,"labelFontSize":7,"labelPadding":3}}}}
 ]},
 {"width":583,"height":45,"layer":[
  {"data":{"name":"dst"},"mark":{"type":"line","color":"#ff00ff"},"encoding":{
    "x":{"field":"d","type":"quantitative","scale":{"domain":[0,14.9],"nice":false,"zero":false},"axis":{"title":null,"values":[0,1,2,3,4,5,6,7,8,9,10,11,12,13,14],"labels":false,"ticks":false,"domainColor":"#000","domainWidth":3,"grid":true,"minExtent":0,"maxExtent":0}},
    "y":{"field":"v","type":"quantitative","scale":{"domain":[-100,50],"nice":false,"zero":false},"axis":{"title":null,"values":[-50,0],"ticks":false,"domain":false,"labelPadding":4,"minExtent":33,"maxExtent":33}}}},
  {"data":{"values":[{}]},"mark":{"type":"rule","color":"#e03030","strokeWidth":1.2,"opacity":0.85},"encoding":{"y":{"datum":0,"type":"quantitative"}}}
 ]},
 {"width":583,"height":45,"layer":[
  {"data":{"name":"kp"},"mark":{"type":"line","color":"#00e8e8","strokeWidth":1.5},"encoding":{
    "x":{"field":"d","type":"quantitative","scale":{"domain":[0,14.9],"nice":false,"zero":false},"axis":{"title":null,"values":[0,1,2,3,4,5,6,7,8,9,10,11,12,13,14],"labels":false,"ticks":false,"domainColor":"#000","domainWidth":3,"grid":true,"minExtent":0,"maxExtent":0}},
    "y":{"field":"v","type":"quantitative","scale":{"domain":[0,60],"nice":false,"zero":false},"axis":{"title":null,"values":[20,40],"ticks":false,"domain":false,"labelPadding":4,"minExtent":33,"maxExtent":33}}}}
 ]},
 {"width":583,"height":45,"layer":[
  {"data":{"name":"el"},"mark":{"type":"line","color":"#a040d8"},"encoding":{
    "x":{"field":"d","type":"quantitative","scale":{"domain":[0,14.9],"nice":false,"zero":false},"axis":{"title":null,"values":[0,1,2,3,4,5,6,7,8,9,10,11,12,13,14],"labels":false,"ticks":false,"domainColor":"#000","domainWidth":3,"grid":true,"minExtent":0,"maxExtent":0}},
    "y":{"field":"v","type":"quantitative","scale":{"type":"log","domain":[1e5,5.01e7],"nice":false},"axis":{"title":null,"values":[1e6,1e7],"labelExpr":"datum.value > 5e6 ? '10⁷' : '10⁶'","labelFontSize":11,"ticks":false,"domain":false,"labelPadding":4,"minExtent":33,"maxExtent":33}}}},
  {"data":{"values":[{"v":1e6},{"v":1e7}]},"mark":{"type":"rule","color":"#d00000","strokeWidth":1},"encoding":{"y":{"field":"v","type":"quantitative"}}}
 ]},
 {"width":583,"height":45,"resolve":{"axis":{"y":"independent"}},"layer":[
  {"data":{"name":"pb"},"mark":{"type":"line","color":"#0000ff"},"encoding":{
    "x":{"field":"d","type":"quantitative","scale":{"domain":[0,14.9],"nice":false,"zero":false},"axis":{"title":null,"values":[0,1,2,3,4,5,6,7,8,9,10,11,12,13,14],"labels":false,"ticks":false,"domainColor":"#000","domainWidth":3,"grid":true,"minExtent":0,"maxExtent":0}},
    "y":{"field":"v","type":"quantitative","scale":{"type":"log","domain":[10,1e5],"nice":false},"axis":{"title":null,"values":[100,1000,10000],"labelExpr":"datum.value > 5000 ? '10⁴' : datum.value > 500 ? '10³' : '10²'","labelFontSize":10,"ticks":false,"domain":false,"labelPadding":4,"minExtent":33,"maxExtent":33}}}},
  {"data":{"name":"pr"},"mark":{"type":"line","color":"#ff0000"},"encoding":{"x":{"field":"d","type":"quantitative"},"y":{"field":"v","type":"quantitative","axis":null}}},
  {"data":{"values":[{}]},"mark":{"type":"rule","color":"#dd3333","strokeWidth":1.5,"strokeDash":[10,6]},"encoding":{"y":{"datum":10000,"type":"quantitative","axis":{"orient":"right","title":null,"values":[10000],"labelExpr":"'rt'","grid":false,"ticks":false,"domain":false,"labelFontSize":7,"labelPadding":3}}}}
 ]},
 {"width":583,"height":45,"layer":[
  {"data":{"name":"p9"},"mark":{"type":"line","color":"#2040ff","strokeDash":[4,1]},"encoding":{
    "x":{"field":"d","type":"quantitative","scale":{"domain":[0,14.9],"nice":false,"zero":false},"axis":{"title":null,"values":[0,0.5,1,1.5,2,2.5,3,3.5,4,4.5,5,5.5,6,6.5,7,7.5,8,8.5,9,9.5,10,10.5,11,11.5,12,12.5,13,13.5,14,14.5],"labelExpr":"datum.value == 0 ? '2023' : (datum.value % 1 == 0 ? '' : (datum.value < 7 ? '10/' + (25 + floor(datum.value)) : '11/ ' + (floor(datum.value) - 6)))","labelAlign":{"condition":{"test":"datum.value == 0","value":"right"},"value":"center"},"gridOpacity":{"condition":{"test":"datum.value % 1 == 0","value":1},"value":0},"ticks":false,"domainColor":"#000","domainWidth":1.5,"grid":true,"labelOverlap":false,"labelFlush":false,"labelBound":false,"labelPadding":4,"labelFontSize":10.5,"labelColor":"#111"}},
    "y":{"field":"v","type":"quantitative","scale":{"type":"log","domain":[0.01,1e5],"nice":false},"axis":{"title":null,"values":[1,100,10000],"labelExpr":"datum.value > 5000 ? '10⁴' : datum.value > 50 ? '10²' : '10⁰'","labelFontSize":11,"ticks":false,"domain":false,"labelPadding":4,"minExtent":33,"maxExtent":33}}}}
 ]}
],
"resolve": {"scale": {"x": "independent", "y": "independent"}}
}
